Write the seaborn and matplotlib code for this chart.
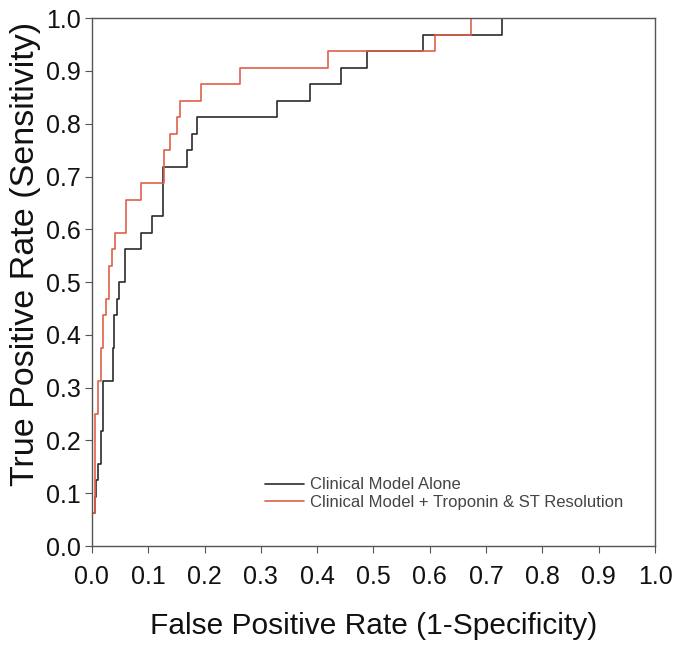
import matplotlib
matplotlib.use("Agg")
import matplotlib.pyplot as plt
import seaborn as sns
import pandas as pd

# ROC corners: x where the curve steps up, and the level it steps to
clin_fpr = [0.0, 0.0, 0.005, 0.0077, 0.0107, 0.0155, 0.0195, 0.037, 0.040, 0.045, 0.049,
            0.058, 0.088, 0.106, 0.127, 0.1685, 0.177, 0.187, 0.329, 0.388, 0.443,
            0.488, 0.588, 0.729, 1.0]
clin_tpr = [0.0, 0.0625, 0.09375, 0.125, 0.15625, 0.21875, 0.3125, 0.375, 0.4375, 0.46875, 0.5,
            0.5625, 0.59375, 0.625, 0.71875, 0.75, 0.78125, 0.8125, 0.84375, 0.875, 0.90625,
            0.9375, 0.96875, 1.0, 1.0]

trop_fpr = [0.0, 0.001, 0.005, 0.006, 0.0107, 0.0155, 0.0195, 0.0254, 0.0296, 0.0355,
            0.041, 0.060, 0.088, 0.128, 0.1385, 0.1515, 0.156, 0.194, 0.263, 0.419,
            0.609, 0.674, 1.0]
trop_tpr = [0.0, 0.0625, 0.09375, 0.25, 0.3125, 0.375, 0.4375, 0.46875, 0.53125, 0.5625,
            0.59375, 0.65625, 0.6875, 0.75, 0.78125, 0.8125, 0.84375, 0.875, 0.90625, 0.9375,
            0.96875, 1.0, 1.0]

labels = ["Clinical Model Alone", "Clinical Model + Troponin & ST Resolution"]
colors = ["#2b2b2b", "#e0604a"]

df = pd.concat([
    pd.DataFrame({"fpr": clin_fpr, "tpr": clin_tpr, "model": labels[0]}),
    pd.DataFrame({"fpr": trop_fpr, "tpr": trop_tpr, "model": labels[1]}),
])

sns.set_style("ticks")
plt.rcParams["font.family"] = ["Liberation Sans", "DejaVu Sans"]

fig = plt.figure(figsize=(6.91, 6.5), dpi=100)
ax = fig.add_axes([0.133, 0.16, 0.815, 0.812])

sns.lineplot(data=df, x="fpr", y="tpr", hue="model", palette=colors, sort=False,
             estimator=None, drawstyle="steps-post", linewidth=1.2, ax=ax)

ax.set_xlim(0, 1)
ax.set_ylim(0, 1)
ticks = [i / 10 for i in range(11)]
ax.set_xticks(ticks)
ax.set_yticks(ticks)
ax.set_xticklabels(["%.1f" % t for t in ticks])
ax.set_yticklabels(["%.1f" % t for t in ticks])
ax.tick_params(labelsize=18, length=5, width=0.8, color="#555555", labelcolor="#111111")
ax.tick_params(axis="x", pad=9)
ax.tick_params(axis="y", pad=3)
for s in ax.spines.values():
    s.set_color("#555555")
    s.set_linewidth(1.0)

ax.set_xlabel("False Positive Rate (1-Specificity)", fontsize=21.5, color="#111111")
ax.set_ylabel("True Positive Rate (Sensitivity)", fontsize=24.5, color="#111111")
ax.xaxis.set_label_coords(0.5, -0.125)
ax.yaxis.set_label_coords(-0.09, 0.553)

leg = ax.legend(loc="lower left", bbox_to_anchor=(0.28, 0.04), frameon=False, fontsize=12,
                handlelength=2.35, handletextpad=0.36, labelspacing=0.15)
for t in leg.get_texts():
    t.set_color("#444444")

fig.savefig("out.png", dpi=100)
